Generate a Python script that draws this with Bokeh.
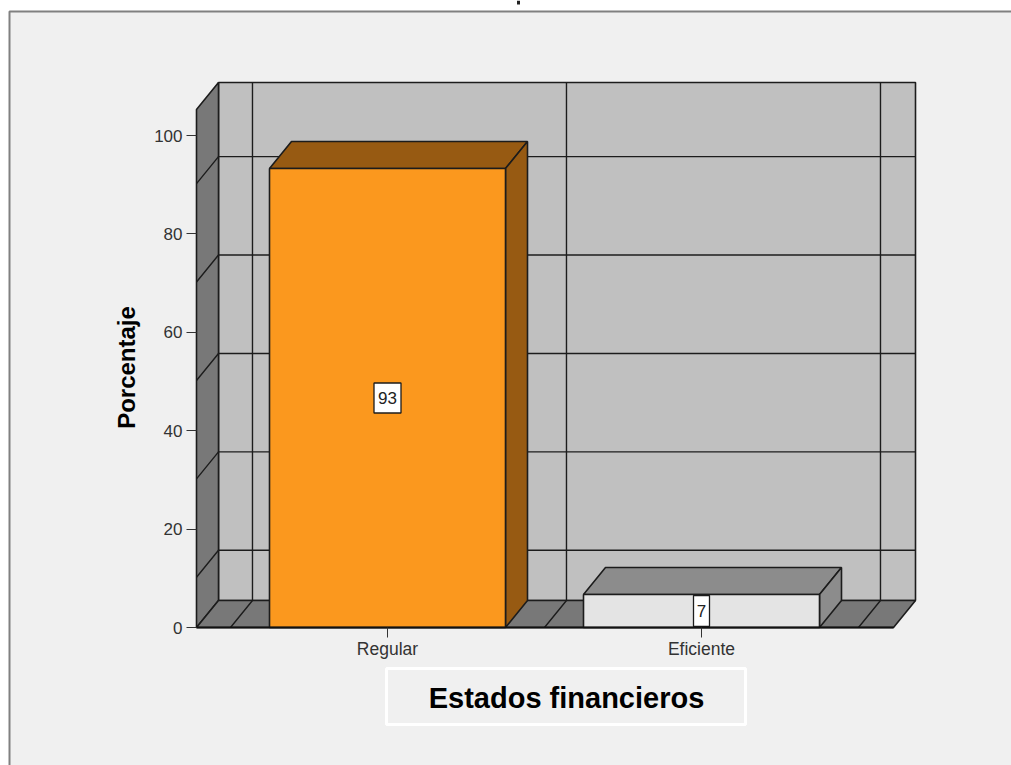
from bokeh.plotting import figure
from bokeh.models import BoxAnnotation, FixedTicker, Range1d, Label
from bokeh.core.properties import value
from bokeh.embed import file_html
from bokeh.resources import INLINE

categories = ["Regular", "Eficiente"]
values = [93.3, 6.7]
y_ticks = [0, 20, 40, 60, 80, 100]
grid_levels = [20, 40, 60, 80, 100]
x_title = "Estados financieros"
y_title = "Porcentaje"

face_colors = ["#fb981e", "#e4e4e4"]
top_colors = ["#975a12", "#8c8c8c"]
side_colors = ["#975a12", "#8c8c8c"]

FONT = "Liberation Sans"
INK = "#1c1c1c"

W, H = 1011, 765
PX_X, PX_Y = 314.0, 4.92         # pixels per data unit
X0, Y0 = 387.0, 627.0            # canvas position of category 0, value 0


def data_x(px):
    return (px - X0) / PX_X


def data_y(px):
    return (Y0 - px) / PX_Y


DX, DY = 22 / PX_X, 27 / PX_Y    # depth of the 3D view
BAR_W = 236 / PX_X
XF0 = data_x(196)                # front left edge of the floor
XF1 = data_x(893)                # front right edge of the floor
Y_TOP = data_y(109)              # height of the walls
GRID_SHIFT = 4.3
VGRID = [-0.43, 0.57, 1.57]

p = figure(width=W, height=H, output_backend="svg", toolbar_location=None,
           x_range=Range1d(data_x(0), data_x(W)),
           y_range=Range1d(data_y(H), data_y(0)),
           min_border_left=0, min_border_right=0,
           min_border_top=0, min_border_bottom=0,
           x_axis_location="below", y_axis_location="left")
p.border_fill_color = "white"
p.background_fill_color = "white"
p.outline_line_color = None
p.grid.visible = False

# chart panel, open to the right and bottom
p.add_layout(BoxAnnotation(left=data_x(9), right=data_x(W + 50),
                           top=data_y(11), bottom=data_y(H + 50),
                           fill_color="#f0f0f0", fill_alpha=1,
                           line_color="#808080", line_alpha=1, line_width=2, level="underlay"))

line = dict(line_color=INK, line_width=1.6)

# walls and floor
p.patch([XF0 + DX, XF1 + DX, XF1 + DX, XF0 + DX], [DY, DY, Y_TOP + DY, Y_TOP + DY],
        fill_color="#c0c0c0", **line)
p.patch([XF0, XF0 + DX, XF0 + DX, XF0], [0, DY, Y_TOP + DY, Y_TOP],
        fill_color="#787878", **line)
p.patch([XF0, XF1, XF1 + DX, XF0 + DX], [0, 0, DY, DY],
        fill_color="#787878", **line)

# grid lines on the walls and floor
for lv in grid_levels:
    yb = lv - GRID_SHIFT
    p.line([XF0, XF0 + DX, XF1 + DX], [yb - DY, yb, yb], line_color=INK, line_width=1.4)
for xv in VGRID:
    p.line([xv - DX, xv, xv], [0, DY, Y_TOP + DY], line_color=INK, line_width=1.4)

# bars
for i, v in enumerate(values):
    x0, x1 = i - BAR_W / 2, i + BAR_W / 2
    p.patch([x0, x1, x1 + DX, x0 + DX], [v, v, v + DY, v + DY],
            fill_color=top_colors[i], **line)
    p.patch([x1, x1 + DX, x1 + DX, x1], [0, DY, v + DY, v],
            fill_color=side_colors[i], **line)
    p.patch([x0, x1, x1, x0], [0, 0, v, v], fill_color=face_colors[i], **line)

# value labels
xs = list(range(len(values)))
ys = [v / 2 for v in values]
box_w = [27 if v >= 10 else 16 for v in values]
p.rect(xs, ys, width=box_w, height=[30, 31], width_units="screen", height_units="screen",
       fill_color="white", line_color=INK, line_width=1.3)
p.text(xs, ys, text=[str(round(v)) for v in values], text_align="center", text_baseline="middle",
       text_font=value(FONT), text_font_size="17px", text_color="#222222")

# baseline
p.line([XF0, XF1], [0, 0], line_color="#111111", line_width=2)

# axes
xa = p.xaxis[0]
xa.fixed_location = 0
xa.ticker = FixedTicker(ticks=xs)
xa.major_label_overrides = {i: c for i, c in enumerate(categories)}
xa.axis_line_color = None
xa.major_tick_in = 0
xa.major_tick_out = 10
xa.minor_tick_line_color = None
xa.major_tick_line_color = "#333333"
xa.major_label_text_font = FONT
xa.major_label_text_font_size = "17.5px"
xa.major_label_text_color = "#333333"
xa.major_label_standoff = 1

ya = p.yaxis[0]
ya.fixed_location = XF0
ya.ticker = FixedTicker(ticks=y_ticks)
ya.axis_line_color = None
ya.major_tick_in = 0
ya.major_tick_out = 10
ya.minor_tick_line_color = None
ya.major_tick_line_color = "#333333"
ya.major_label_text_font = FONT
ya.major_label_text_font_size = "17px"
ya.major_label_text_color = "#333333"
ya.major_label_standoff = 4

# frame round the x axis title, and the titles
p.add_layout(BoxAnnotation(left=data_x(386), right=data_x(745), top=data_y(668), bottom=data_y(724),
                           fill_alpha=0, line_color="white", line_alpha=1, line_width=3, level="underlay"))
p.add_layout(Label(x=data_x(566), y=data_y(697), text=x_title, text_font=FONT,
                   text_font_style="bold", text_font_size="29px", text_color="black",
                   text_align="center", text_baseline="middle"))
p.add_layout(Label(x=data_x(126), y=data_y(367), text=y_title, text_font=FONT, angle=90,
                   angle_units="deg", text_font_style="bold", text_font_size="24px",
                   text_color="black", text_align="center", text_baseline="middle"))
# what is left of the cropped-off title at the very top of the picture: one descender
p.line([data_x(518), data_x(518)], [data_y(0), data_y(4)], line_color="#222222", line_width=3)

open("out.html", "w").write(file_html(p, INLINE))
